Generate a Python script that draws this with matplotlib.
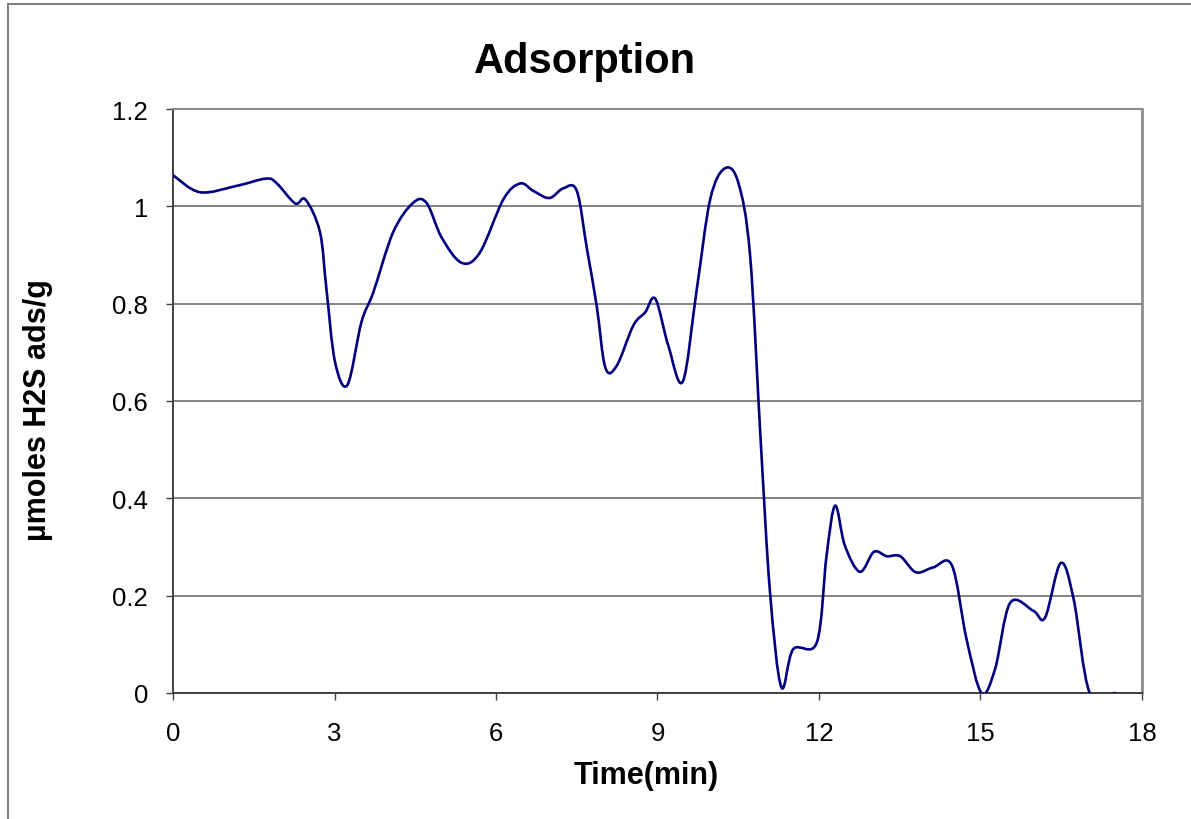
import matplotlib
matplotlib.use("Agg")
from matplotlib import pyplot as plt
from matplotlib.path import Path
from matplotlib.patches import PathPatch
from matplotlib.lines import Line2D

# values (minutes, umoles H2S ads/g)
time_min = [0.0, 0.50, 1.18, 1.73, 1.93, 2.27, 2.46, 2.73, 2.85, 3.01, 3.24,
            3.50, 3.72, 4.09, 4.46, 4.71, 4.99, 5.36, 5.70, 6.14, 6.45, 6.69,
            6.99, 7.25, 7.50, 7.69, 7.87, 8.03, 8.24, 8.55, 8.77, 8.96, 9.20,
            9.47, 9.73, 9.98, 10.25, 10.50, 10.72, 10.92, 11.09, 11.30, 11.52,
            11.96, 12.14, 12.30, 12.48, 12.76, 13.02, 13.26, 13.51, 13.80,
            14.12, 14.47, 14.74, 15.02, 15.27, 15.55, 15.98, 16.20, 16.49,
            16.73, 17.03, 17.50]
ads = [1.064, 1.029, 1.042, 1.057, 1.047, 1.006, 1.014, 0.947, 0.830, 0.680,
       0.633, 0.762, 0.823, 0.947, 1.007, 1.007, 0.936, 0.884, 0.905, 1.015,
       1.047, 1.032, 1.017, 1.037, 1.032, 0.912, 0.796, 0.669, 0.672, 0.755,
       0.782, 0.810, 0.714, 0.640, 0.830, 1.015, 1.078, 1.049, 0.899, 0.512,
       0.207, 0.012, 0.090, 0.104, 0.282, 0.385, 0.303, 0.249, 0.290, 0.281,
       0.281, 0.248, 0.258, 0.262, 0.111, 0.0, 0.049, 0.185, 0.169, 0.155,
       0.267, 0.193, 0.0, 0.0]

x_ticks = [0, 3, 6, 9, 12, 15, 18]
y_ticks = [0, 0.2, 0.4, 0.6, 0.8, 1, 1.2]
y_tick_labels = ['0', '0.2', '0.4', '0.6', '0.8', '1', '1.2']


def smooth_path(xs, ys):
    # Excel-like smoothed line: Catmull-Rom segments as cubic Beziers
    verts = [(xs[0], ys[0])]
    codes = [Path.MOVETO]
    n = len(xs)
    for i in range(n - 1):
        x0, y0 = (xs[i - 1], ys[i - 1]) if i > 0 else (xs[i], ys[i])
        x1, y1 = xs[i], ys[i]
        x2, y2 = xs[i + 1], ys[i + 1]
        x3, y3 = (xs[i + 2], ys[i + 2]) if i + 2 < n else (x2, y2)
        c1 = (x1 + (x2 - x0) / 6.0, y1 + (y2 - y0) / 6.0)
        c2 = (x2 - (x3 - x1) / 6.0, y2 - (y3 - y1) / 6.0)
        verts += [c1, c2, (x2, y2)]
        codes += [Path.CURVE4] * 3
    return Path(verts, codes)


def main():
    plt.rcParams['font.family'] = ['Liberation Sans', 'DejaVu Sans']
    fig = plt.figure(figsize=(11.91, 8.2), dpi=100)
    ax = fig.add_axes([173 / 1191, 126 / 820, 969 / 1191, 584 / 820])

    line = PathPatch(smooth_path(time_min, ads), facecolor='none',
                     edgecolor='#000080', lw=1.9, capstyle='round',
                     joinstyle='round', zorder=3)
    ax.add_patch(line)

    ax.set_xlim(0, 18)
    ax.set_ylim(0, 1.2)
    ax.set_xticks(x_ticks)
    ax.set_yticks(y_ticks)
    ax.set_yticklabels(y_tick_labels)
    ax.tick_params(axis='both', labelsize=18.5, direction='out', length=5,
                   width=1.0, color='#404040')
    ax.tick_params(axis='x', pad=15)
    ax.tick_params(axis='y', pad=13)
    ax.yaxis.grid(True, color='#6e6e6e', lw=1.2)
    ax.set_axisbelow(True)

    ax.spines['left'].set_color('#404040')
    ax.spines['bottom'].set_color('#404040')
    ax.spines['left'].set_linewidth(1.4)
    ax.spines['bottom'].set_linewidth(1.4)
    ax.spines['top'].set_color('#8c8c8c')
    ax.spines['right'].set_color('#8c8c8c')
    ax.spines['top'].set_linewidth(1.5)
    ax.spines['right'].set_linewidth(2.0)

    fig.text(0.491, 1 - 62 / 820, 'Adsorption', fontsize=30,
             fontweight='bold', ha='center', va='center')
    fig.text(646 / 1191, 1 - 776 / 820, 'Time(min)', fontsize=22,
             fontweight='bold', ha='center', va='center')
    fig.text(38 / 1191, 1 - 410 / 820, 'µmoles H2S ads/g', fontsize=22,
             fontweight='bold', ha='center', va='center', rotation=90)

    # outer chart-area border (only left and top are visible)
    fig.add_artist(Line2D([8 / 1191, 8 / 1191], [0, 1 - 5 / 820],
                          transform=fig.transFigure, color='#808080', lw=1.5))
    fig.add_artist(Line2D([8 / 1191, 1], [1 - 5 / 820, 1 - 5 / 820],
                          transform=fig.transFigure, color='#808080', lw=1.5))

    fig.savefig('out.png', dpi=100)


if __name__ == "__main__":
    main()
